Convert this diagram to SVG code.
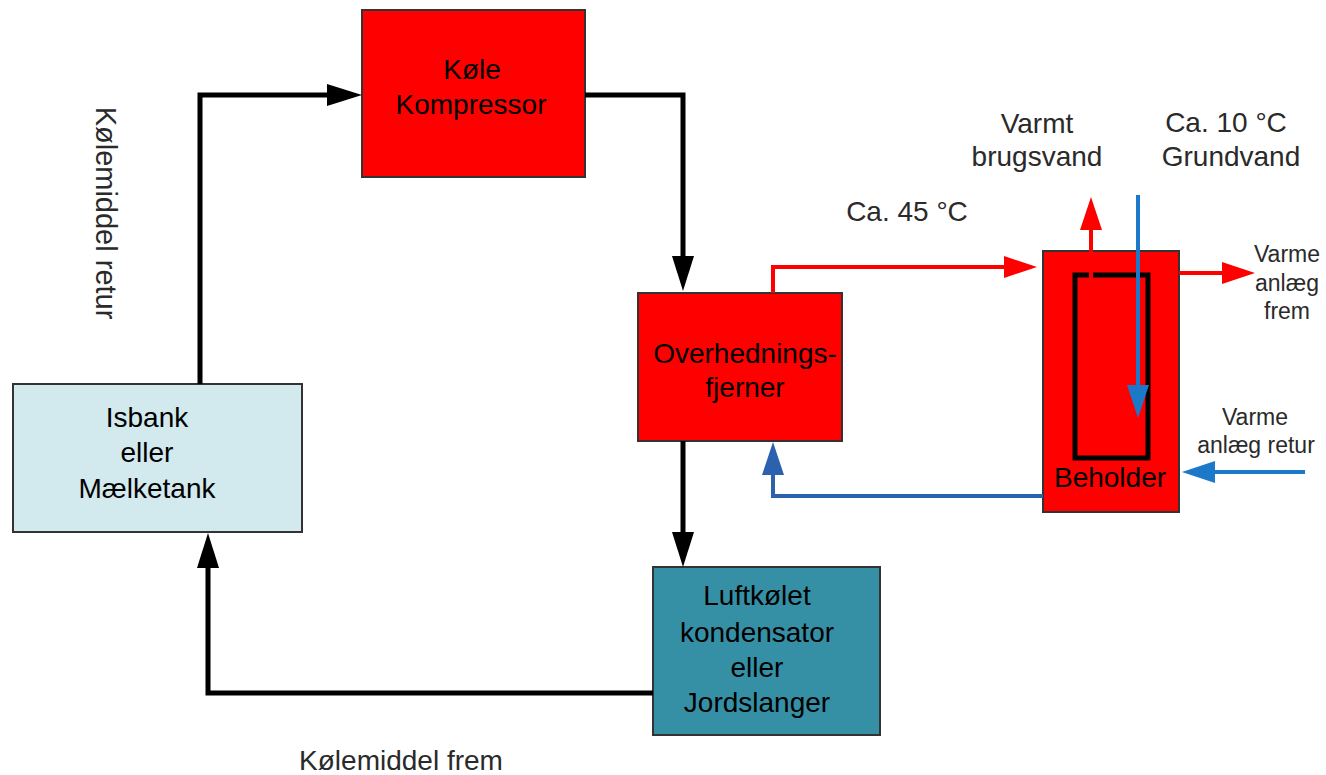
<svg xmlns="http://www.w3.org/2000/svg" width="1326" height="775" viewBox="0 0 1326 775">
<style>
  text { font-family: "Liberation Sans", Arial, sans-serif; font-size: 28px; text-anchor: middle; }
  .lbl { fill: #2a2a2a; }
  .small { font-size: 23px; }
  .box { stroke: #333; stroke-width: 2; }
  .red { fill: #ff0000; }
  .blk { fill: none; stroke: #000; stroke-width: 5; }
  .rl { fill: none; stroke: #ff0000; stroke-width: 4; }
  .bl1 { fill: none; stroke: #2c61ad; stroke-width: 4; }
  .bl2 { fill: none; stroke: #1c78c8; stroke-width: 4; }
</style>
<defs>
  <marker id="ab" markerUnits="userSpaceOnUse" markerWidth="36" markerHeight="22" refX="0" refY="11" orient="auto" overflow="visible"><path d="M0,0 L35,11 L0,22 z" fill="#000"/></marker>
  <marker id="ar" markerUnits="userSpaceOnUse" markerWidth="34" markerHeight="22" refX="0" refY="11" orient="auto" overflow="visible"><path d="M0,0 L33,11 L0,22 z" fill="#ff0000"/></marker>
  <marker id="ab1" markerUnits="userSpaceOnUse" markerWidth="34" markerHeight="22" refX="0" refY="11" orient="auto" overflow="visible"><path d="M0,0 L33,11 L0,22 z" fill="#2c61ad"/></marker>
  <marker id="ab2" markerUnits="userSpaceOnUse" markerWidth="34" markerHeight="22" refX="0" refY="11" orient="auto" overflow="visible"><path d="M0,0 L33,11 L0,22 z" fill="#1c78c8"/></marker>
</defs>
<rect width="1326" height="775" fill="#fff"/>

<g id="kompressor">
  <rect class="box red" x="362" y="10" width="223" height="167"/>
  <text x="472" y="79">Køle</text>
  <text x="471" y="114">Kompressor</text>
</g>
<g id="overhedningsfjerner">
  <rect class="box red" x="638" y="293" width="204" height="148"/>
  <text x="745" y="363">Overhednings-</text>
  <text x="745" y="397">fjerner</text>
</g>
<g id="isbank">
  <rect class="box" fill="#d2e9ee" x="13" y="384" width="289" height="148"/>
  <text x="147" y="427">Isbank</text>
  <text x="147" y="462">eller</text>
  <text x="147" y="498">Mælketank</text>
</g>
<g id="luftkoelet">
  <rect class="box" fill="#3590a6" x="653" y="567" width="227" height="168"/>
  <text x="757" y="605">Luftkølet</text>
  <text x="757" y="642">kondensator</text>
  <text x="757" y="677">eller</text>
  <text x="757" y="712">Jordslanger</text>
</g>
<g id="beholder">
  <rect class="box red" x="1043" y="251" width="136" height="261"/>
  <rect x="1075" y="275" width="73" height="183" fill="none" stroke="#000" stroke-width="5"/>
  <text x="1110" y="487">Beholder</text>
</g>

<g id="connectors">
  <path class="blk" d="M200,384 V95 H327" marker-end="url(#ab)"/>
  <path class="blk" d="M585,95 H683 V256" marker-end="url(#ab)"/>
  <path class="blk" d="M683,441 V532" marker-end="url(#ab)"/>
  <path class="blk" d="M653,693 H208 V568" marker-end="url(#ab)"/>
  <path class="rl" d="M773,293 V267 H1004" marker-end="url(#ar)"/>
  <path class="bl1" d="M1043,496 H773 V475" marker-end="url(#ab1)"/>
  <path class="rl" d="M1091,278 V230" marker-end="url(#ar)"/>
  <path class="bl2" d="M1138,195 V385" marker-end="url(#ab2)"/>
  <path class="rl" d="M1179,273 H1222" marker-end="url(#ar)"/>
  <path class="bl2" d="M1305,472 H1215" marker-end="url(#ab2)"/>
</g>

<g id="labels">
  <text class="lbl" x="907" y="221">Ca. 45 °C</text>
  <text class="lbl" x="1037" y="133">Varmt</text>
  <text class="lbl" x="1037" y="166">brugsvand</text>
  <text class="lbl" x="1226" y="132">Ca. 10 °C</text>
  <text class="lbl" x="1231" y="166">Grundvand</text>
  <text class="lbl small" x="1287" y="262">Varme</text>
  <text class="lbl small" x="1287" y="291">anlæg</text>
  <text class="lbl small" x="1287" y="319">frem</text>
  <text class="lbl small" x="1255" y="425">Varme</text>
  <text class="lbl small" x="1256" y="453">anlæg retur</text>
  <text class="lbl" x="401" y="770">Kølemiddel frem</text>
  <text class="lbl" style="font-size:29px" transform="translate(96,213) rotate(90)">Kølemiddel retur</text>
</g>
</svg>
